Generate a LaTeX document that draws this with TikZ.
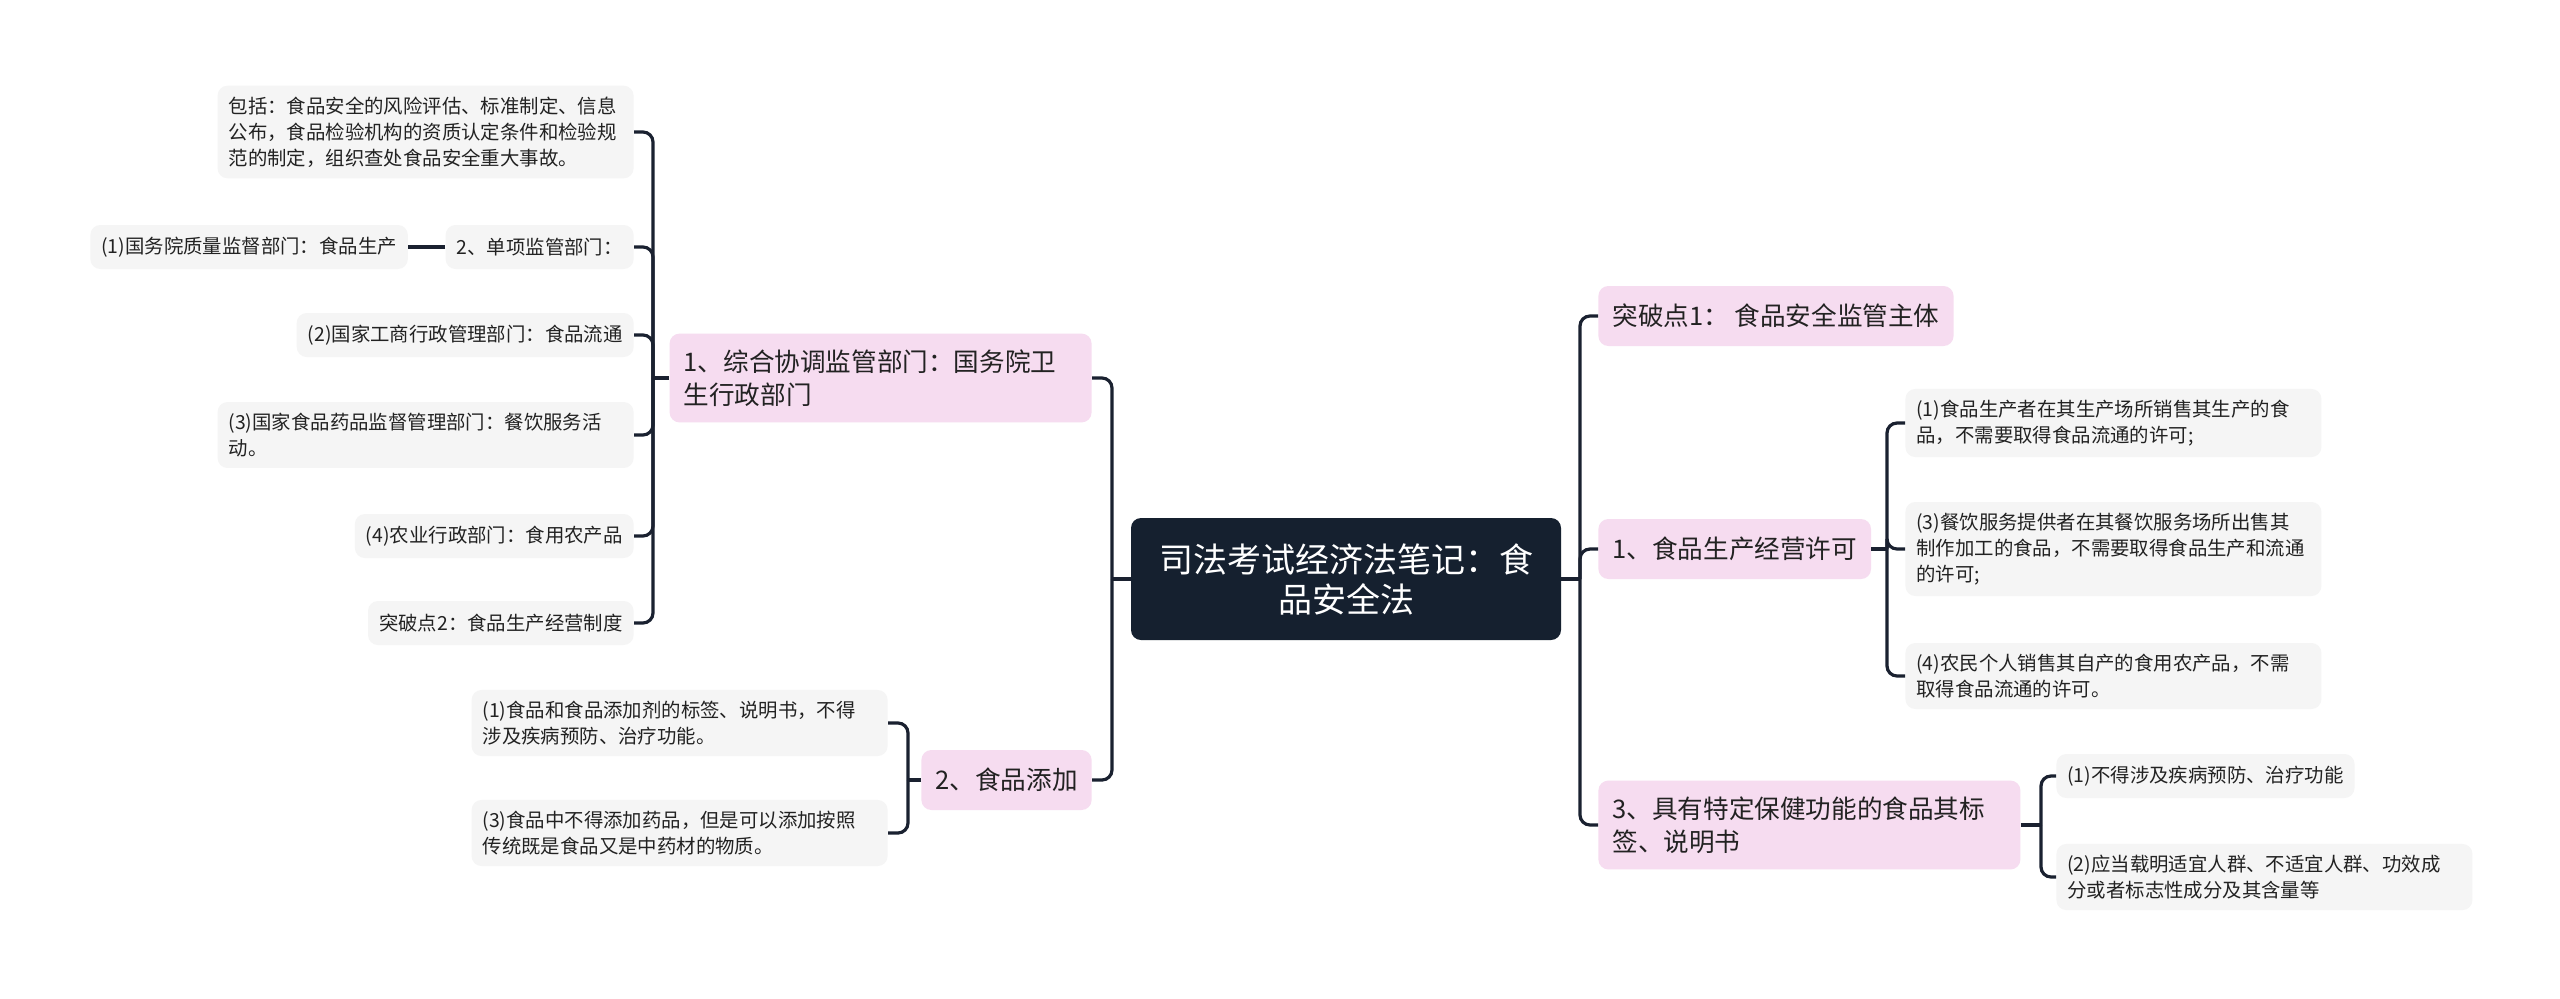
\documentclass[tikz,border=0pt]{standalone}
\usepackage{fontspec}
\newfontfamily\cjk{Noto Sans CJK SC}
\usetikzlibrary{positioning}
\definecolor{rootbg}{HTML}{15202F}
\definecolor{topicbg}{HTML}{F6DCF0}
\definecolor{leafbg}{HTML}{F5F5F5}
\definecolor{linecol}{HTML}{1A2130}
\definecolor{textcol}{HTML}{222222}

\begin{document}
\begin{tikzpicture}[x=0.5pt, y=-0.5pt,
    root/.style={rectangle, fill=rootbg, text=white, rounded corners=5pt, align=center, minimum width=215pt, minimum height=61pt, font=\cjk\fontsize{17pt}{20pt}\selectfont},
    topic/.style={rectangle, fill=topicbg, text=textcol, rounded corners=5pt, align=left, inner xsep=7pt, inner ysep=8pt, minimum height=30pt, font=\cjk\fontsize{12.8pt}{16.5pt}\selectfont},
    leaf/.style={rectangle, fill=leafbg, text=textcol, rounded corners=5pt, align=left, inner xsep=5.5pt, inner ysep=5.5pt, minimum height=22pt, font=\cjk\fontsize{9.7pt}{13pt}\selectfont},
    line/.style={draw=linecol, line width=1.6pt, rounded corners=5pt}]

    \path[fill=white, use as bounding box] (0,0) rectangle (2560,998);

    \node [root] (root) at (1346,579) {司法考试经济法笔记：食\\品安全法};

    % left side
    \node [topic, text width=197pt, anchor=east] (coord) at (1092,378) {1、综合协调监管部门：国务院卫\\生行政部门};
    \node [topic, anchor=east] (additive) at (1092,780) {2、食品添加};

    \node [leaf, text width=197pt, anchor=east] (scope) at (634,132) {包括：食品安全的风险评估、标准制定、信息\\公布，食品检验机构的资质认定条件和检验规\\范的制定，组织查处食品安全重大事故。};
    \node [leaf, anchor=east] (single) at (634,247) {2、单项监管部门：};
    \node [leaf, left=18.5pt of single] (quality) {(1)国务院质量监督部门：食品生产};
    \node [leaf, anchor=east] (commerce) at (634,335) {(2)国家工商行政管理部门：食品流通};
    \node [leaf, text width=197pt, anchor=east] (drug) at (634,435) {(3)国家食品药品监督管理部门：餐饮服务活\\动。};
    \node [leaf, anchor=east] (agri) at (634,536) {(4)农业行政部门：食用农产品};
    \node [leaf, anchor=east] (point2) at (634,623) {突破点2：食品生产经营制度};

    \node [leaf, text width=197pt, anchor=east] (label) at (888,723) {(1)食品和食品添加剂的标签、说明书，不得\\涉及疾病预防、治疗功能。};
    \node [leaf, text width=197pt, anchor=east] (medicine) at (888,833) {(3)食品中不得添加药品，但是可以添加按照\\传统既是食品又是中药材的物质。};

    % right side
    \node [topic, anchor=west] (point1) at (1598,316) {突破点1：\ 食品安全监管主体};
    \node [topic, anchor=west] (licence) at (1598,549) {1、食品生产经营许可};
    \node [topic, text width=197pt, anchor=west] (health) at (1598,825) {3、具有特定保健功能的食品其标\\签、说明书};

    \node [leaf, text width=197pt, anchor=west] (producer) at (1905,423) {(1)食品生产者在其生产场所销售其生产的食\\品，不需要取得食品流通的许可;};
    \node [leaf, text width=197pt, anchor=west] (catering) at (1905,549) {(3)餐饮服务提供者在其餐饮服务场所出售其\\制作加工的食品，不需要取得食品生产和流通\\的许可;};
    \node [leaf, text width=197pt, anchor=west] (farmer) at (1905,676) {(4)农民个人销售其自产的食用农产品，不需\\取得食品流通的许可。};

    \node [leaf, anchor=west] (nocure) at (2056,776) {(1)不得涉及疾病预防、治疗功能};
    \node [leaf, text width=197pt, anchor=west] (crowd) at (2056,877) {(2)应当载明适宜人群、不适宜人群、功效成\\分或者标志性成分及其含量等};

    % junctions
    \coordinate (jl) at (1112,579);
    \coordinate (jr) at (1580,579);
    \coordinate (jcoord) at (653,378);
    \coordinate (jadd) at (908,780);
    \coordinate (jlic) at (1887,549);
    \coordinate (jhealth) at (2041,825);

    \path [line] (root.west) -- (jl);
    \path [line] (jl) |- (coord.east);
    \path [line] (jl) |- (additive.east);

    \path [line] (coord.west) -- (jcoord);
    \path [line] (jcoord) |- (scope.east);
    \path [line] (jcoord) |- (single.east);
    \path [line] (jcoord) |- (commerce.east);
    \path [line] (jcoord) |- (drug.east);
    \path [line] (jcoord) |- (agri.east);
    \path [line] (jcoord) |- (point2.east);
    \path [line] (single.west) -- (quality.east);

    \path [line] (additive.west) -- (jadd);
    \path [line] (jadd) |- (label.east);
    \path [line] (jadd) |- (medicine.east);

    \path [line] (root.east) -- (jr);
    \path [line] (jr) |- (point1.west);
    \path [line] (jr) |- (licence.west);
    \path [line] (jr) |- (health.west);

    \path [line] (licence.east) -- (jlic);
    \path [line] (jlic) |- (producer.west);
    \path [line] (jlic) |- (catering.west);
    \path [line] (jlic) |- (farmer.west);

    \path [line] (health.east) -- (jhealth);
    \path [line] (jhealth) |- (nocure.west);
    \path [line] (jhealth) |- (crowd.west);
\end{tikzpicture}
\end{document}
